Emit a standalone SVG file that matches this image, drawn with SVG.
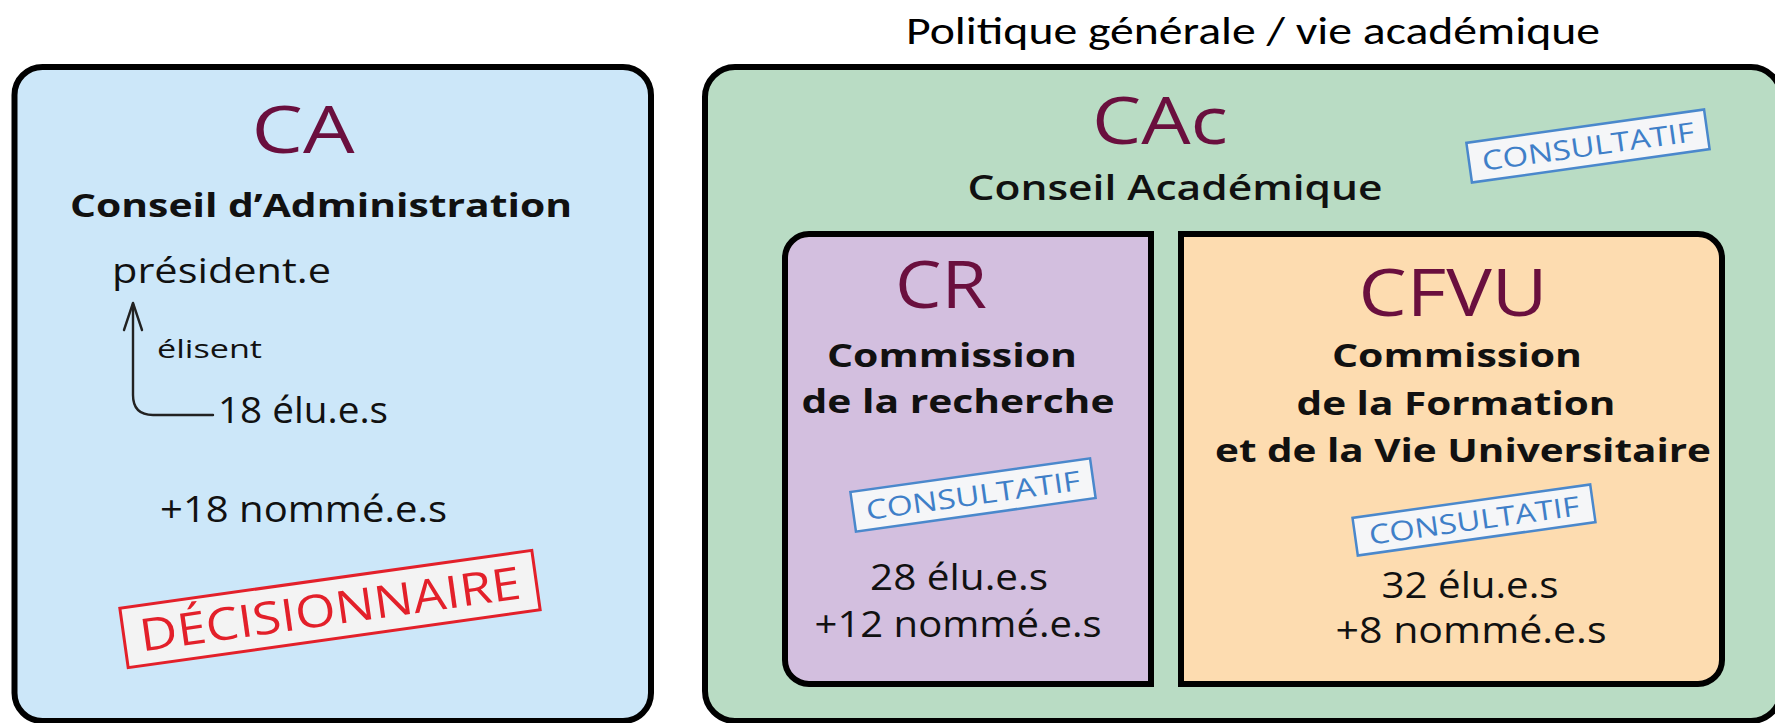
<svg xmlns="http://www.w3.org/2000/svg" width="1775" height="723" viewBox="0 0 1775 723">
<style>
.box{stroke:#000;stroke-width:6;}
.t{font-family:"Open Sans","Noto Sans","Liberation Sans",sans-serif;fill:#111;}
.big{font-size:65px;fill:#6a0f3e;font-weight:500;text-anchor:middle;}
.sub{font-size:33px;font-weight:700;text-anchor:middle;}
.num{font-size:36px;font-weight:500;text-anchor:middle;}
.stampB{fill:#f5f6f8;stroke:#4a88cc;stroke-width:2.5;}
.stampBt{font-family:"Open Sans","Noto Sans","Liberation Sans",sans-serif;font-size:27px;fill:#3f7fc8;text-anchor:middle;}
.conn{fill:none;stroke:#222;stroke-width:2.4;stroke-linecap:round;stroke-linejoin:round;}
</style>

<g id="title">
<text x="906" y="44" font-family="Calibri,'Carlito','Liberation Sans',sans-serif" font-size="38" fill="#000" textLength="694" lengthAdjust="spacingAndGlyphs">Politique générale / vie académique</text>
</g>

<g id="ca">
<rect class="box" x="14.5" y="67" width="636.5" height="654" rx="28" fill="#cce7f9"/>
<text class="t big" x="303" y="153" textLength="103" lengthAdjust="spacingAndGlyphs">CA</text>
<text class="t" x="70" y="217" font-size="32" font-weight="700" textLength="502" lengthAdjust="spacingAndGlyphs">Conseil d’Administration</text>
<text class="t" x="112" y="283" font-size="34" font-weight="500" textLength="219" lengthAdjust="spacingAndGlyphs">président.e</text>
<text class="t" x="157" y="358" font-size="25" fill="#333" textLength="105" lengthAdjust="spacingAndGlyphs">élisent</text>
<text class="t" x="218" y="423" font-size="37" font-weight="500" textLength="170" lengthAdjust="spacingAndGlyphs">18 élu.e.s</text>
<text class="t" x="160" y="522" font-size="37" font-weight="500" textLength="287" lengthAdjust="spacingAndGlyphs">+18 nommé.e.s</text>
<g transform="translate(330,609) rotate(-8)">
<rect x="-208" y="-30" width="416" height="60" fill="#f3f3f3" stroke="#e3202a" stroke-width="3"/>
<text x="0" y="16" font-family="'Open Sans','Noto Sans','Liberation Sans',sans-serif" font-size="45" fill="#e3202a" text-anchor="middle" textLength="384" lengthAdjust="spacingAndGlyphs">DÉCISIONNAIRE</text>
</g>
</g>

<g id="cac">
<rect class="box" x="705" y="67" width="1076" height="654" rx="30" fill="#b9dcc4"/>
<text class="t big" x="1160" y="144" textLength="136" lengthAdjust="spacingAndGlyphs">CAc</text>
<text class="t" x="1175" y="200" font-size="34" font-weight="600" text-anchor="middle" textLength="415" lengthAdjust="spacingAndGlyphs">Conseil Académique</text>
<g transform="translate(1588,146) rotate(-8)">
<rect class="stampB" x="-120" y="-20" width="240" height="40"/>
<text class="stampBt" x="0" y="10" textLength="214" lengthAdjust="spacingAndGlyphs">CONSULTATIF</text>
</g>
</g>

<g id="cr">
<path class="box" fill="#d3bfdf" d="M809,234 H1151 V684 H809 A24,24 0 0 1 785,660 V258 A24,24 0 0 1 809,234 Z"/>
<text class="t big" x="941" y="308" textLength="92" lengthAdjust="spacingAndGlyphs">CR</text>
<text class="t sub" x="952" y="367" textLength="250" lengthAdjust="spacingAndGlyphs">Commission</text>
<text class="t sub" x="958" y="413" textLength="313" lengthAdjust="spacingAndGlyphs">de la recherche</text>
<g transform="translate(973,495) rotate(-8)">
<rect class="stampB" x="-121" y="-20" width="242" height="40"/>
<text class="stampBt" x="0" y="10" textLength="216" lengthAdjust="spacingAndGlyphs">CONSULTATIF</text>
</g>
<text class="t num" x="959" y="590" textLength="178" lengthAdjust="spacingAndGlyphs">28 élu.e.s</text>
<text class="t num" x="958" y="637" textLength="287" lengthAdjust="spacingAndGlyphs">+12 nommé.e.s</text>
</g>

<g id="cfvu">
<path class="box" fill="#fddcb0" d="M1181,234 H1698 A24,24 0 0 1 1722,258 V660 A24,24 0 0 1 1698,684 H1181 Z"/>
<text class="t big" x="1453" y="316" textLength="189" lengthAdjust="spacingAndGlyphs">CFVU</text>
<text class="t sub" x="1457" y="367" textLength="250" lengthAdjust="spacingAndGlyphs">Commission</text>
<text class="t sub" x="1456" y="415" textLength="319" lengthAdjust="spacingAndGlyphs">de la Formation</text>
<text class="t sub" x="1463" y="462" textLength="496" lengthAdjust="spacingAndGlyphs">et de la Vie Universitaire</text>
<g transform="translate(1474,520) rotate(-8)">
<rect class="stampB" x="-120" y="-19" width="240" height="38"/>
<text class="stampBt" x="0" y="10" textLength="212" lengthAdjust="spacingAndGlyphs">CONSULTATIF</text>
</g>
<text class="t num" x="1470" y="598" textLength="177" lengthAdjust="spacingAndGlyphs">32 élu.e.s</text>
<text class="t num" x="1471" y="643" textLength="271" lengthAdjust="spacingAndGlyphs">+8 nommé.e.s</text>
</g>

<g id="connectors">
<path class="conn" d="M213,415 H153 Q133,415 133,395 V304"/>
<path class="conn" d="M124,330 L133,303 L142,330"/>
</g>
</svg>
